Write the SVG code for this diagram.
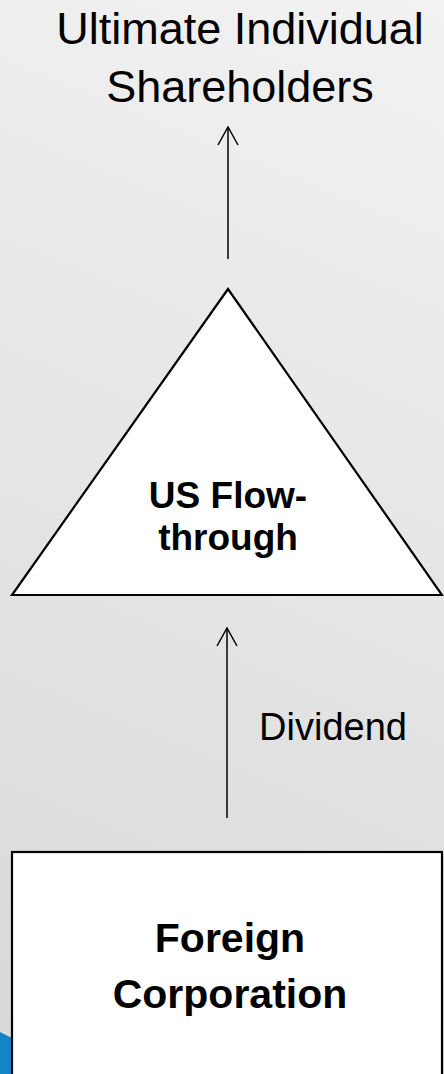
<svg xmlns="http://www.w3.org/2000/svg" width="444" height="1074" viewBox="0 0 444 1074">
<defs>
<linearGradient id="bg" gradientUnits="userSpaceOnUse" x1="444" y1="0" x2="0" y2="1074">
<stop offset="0" stop-color="#f2f2f2"/>
<stop offset="1" stop-color="#d8d8d8"/>
</linearGradient>
<marker id="arr" markerUnits="userSpaceOnUse" markerWidth="40" markerHeight="40" refX="0" refY="0" orient="auto" viewBox="-30 -20 40 40" overflow="visible">
<path d="M-18,-10 L0,0 L-18,10" fill="none" stroke="#000" stroke-width="1.5"/>
</marker>
<style>
.lbl{font-family:"Liberation Sans",Arial,sans-serif;fill:#000;text-anchor:middle}
.bold{font-weight:bold}
.node{fill:#fff;stroke:#000;stroke-width:2.2}
.conn{stroke:#000;stroke-width:1.5;fill:none;marker-end:url(#arr)}
</style>
</defs>
<rect width="444" height="1074" fill="url(#bg)"/>
<polygon points="0,1032 14,1039 14,1074 0,1074" fill="#1384c8"/>
<g id="shareholders">
<text class="lbl" x="240" y="44" font-size="45">Ultimate Individual</text>
<text class="lbl" x="240" y="102" font-size="45">Shareholders</text>
</g>
<g id="flowthrough">
<polygon class="node" points="228,289 12,595 442,595"/>
<text class="lbl bold" x="228" y="508" font-size="37">US Flow-</text>
<text class="lbl bold" x="228" y="550" font-size="37">through</text>
</g>
<g id="foreign">
<rect class="node" x="12" y="852" width="430" height="240"/>
<text class="lbl bold" x="230" y="952" font-size="41">Foreign</text>
<text class="lbl bold" x="230" y="1008" font-size="41">Corporation</text>
</g>
<g id="connectors">
<line class="conn" x1="228" y1="259" x2="228" y2="127"/>
<line class="conn" x1="227" y1="818" x2="227" y2="628"/>
<text class="lbl" x="333" y="740" font-size="38">Dividend</text>
</g>
</svg>
